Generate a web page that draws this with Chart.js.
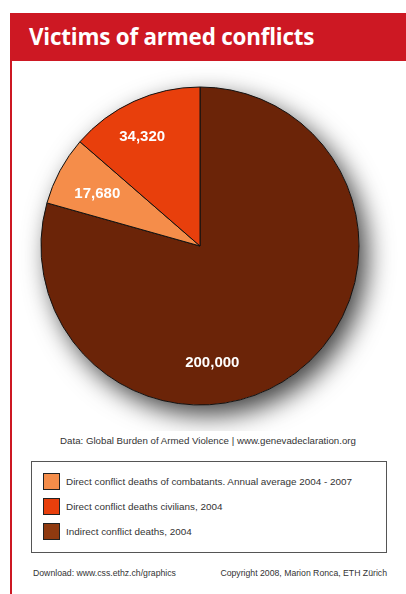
<!DOCTYPE html>
<html>
<head>
<meta charset="utf-8">
<script src="https://cdn.jsdelivr.net/npm/chart.js@4.4.0/dist/chart.umd.min.js"></script>
<style>
  html, body { margin: 0; padding: 0; background: #fff; }
  body { width: 406px; height: 594px; position: relative; overflow: hidden; font-family: "Liberation Sans", Arial, sans-serif; }
  .header { position: absolute; left: 10px; top: 13px; width: 396px; height: 48px; background: #cd1823; z-index: 2; }
  .header h1 { margin: 0; position: absolute; left: 19px; top: 8px; color: #fff; font-family: "Open Sans", sans-serif; font-weight: 700; font-size: 22.4px; letter-spacing: -0.2px; }
  .rule { position: absolute; left: 10px; top: 61px; width: 2px; height: 533px; background: #cd1823; z-index: 2; }
  .wrap { position: absolute; left: 0; top: 61px; width: 400px; height: 370px; }
  .source { position: absolute; left: 0; width: 416px; top: 435px; text-align: center; font-size: 9.7px; color: #333; }
  .legend { position: absolute; left: 31px; top: 461px; width: 354px; height: 90px; border: 1px solid #555; background: #fff; }
  .item { position: absolute; left: 11px; height: 17px; font-size: 9.9px; color: #333; line-height: 17px; }
  .item span.sw { position: absolute; left: 0; top: 0; width: 15px; height: 15px; border: 1px solid #222; }
  .item span.tx { position: absolute; left: 23px; white-space: nowrap; }
  .foot { position: absolute; top: 568px; font-size: 8.7px; color: #333; }
</style>
</head>
<body>
<div class="header"><h1>Victims of armed conflicts</h1></div>
<div class="rule"></div>
<div class="wrap"><canvas id="pie"></canvas></div>
<div class="source">Data: Global Burden of Armed Violence | www.genevadeclaration.org</div>
<div class="legend" id="legend"></div>
<div class="foot" style="left:33px">Download: www.css.ethz.ch/graphics</div>
<div class="foot" style="right:19px">Copyright 2008, Marion Ronca, ETH Zürich</div>
<script>
// Slices in drawing order (clockwise from 12 o'clock)
const categories = [
    "Indirect conflict deaths, 2004",
    "Direct conflict deaths of combatants. Annual average 2004 - 2007",
    "Direct conflict deaths civilians, 2004",
];
const deaths = [200000, 17680, 34320];
const sliceColors = ["#6b2408", "#f58d4a", "#e83f0c"];
const legendSwatch = ["#903a10", "#f58d4a", "#e83f0c"];
// legend lists the slices in this order
const legendOrder = [1, 2, 0];

// label anchor per slice: angle in degrees clockwise from top, radius fraction
const labelPlacement = [
    { angle: 174, r: 0.74 },
    { angle: 297, r: 0.725 },
    { angle: 332, r: 0.775 },
];

const legendEl = document.getElementById("legend");
legendOrder.forEach((idx, i) => {
    const row = document.createElement("div");
    row.className = "item";
    row.style.top = (11 + i * 25) + "px";
    row.innerHTML = '<span class="sw" style="background:' + legendSwatch[idx] + '"></span><span class="tx">' + categories[idx] + "</span>";
    legendEl.appendChild(row);
});

// soft drop shadow under the whole pie
const pieShadow = {
    id: "pieShadow",
    beforeDatasetsDraw(chart) {
        const arc = chart.getDatasetMeta(0).data[0];
        if (!arc) return;
        const { ctx } = chart;
        ctx.save();
        ctx.shadowColor = "rgba(0,0,0,0.75)";
        ctx.shadowBlur = 26;
        ctx.shadowOffsetX = 8;
        ctx.shadowOffsetY = 10;
        ctx.fillStyle = "#fff";
        ctx.beginPath();
        ctx.arc(arc.x, arc.y, arc.outerRadius, 0, Math.PI * 2);
        ctx.fill();
        ctx.restore();
    },
};

const sliceLabels = {
    id: "sliceLabels",
    afterDatasetsDraw(chart) {
        const { ctx } = chart;
        const meta = chart.getDatasetMeta(0);
        ctx.save();
        ctx.fillStyle = "#fff";
        ctx.font = "bold 15px 'Liberation Sans', Arial, sans-serif";
        ctx.textAlign = "center";
        ctx.textBaseline = "middle";
        meta.data.forEach((arc, i) => {
            const p = labelPlacement[i];
            const a = (p.angle - 90) * Math.PI / 180;
            const rr = arc.outerRadius * p.r;
            ctx.fillText(deaths[i].toLocaleString("en-US"), arc.x + Math.cos(a) * rr, arc.y + Math.sin(a) * rr);
        });
        ctx.restore();
    },
};

new Chart(document.getElementById("pie"), {
    type: "pie",
    data: {
        labels: categories,
        datasets: [{
            data: deaths,
            backgroundColor: sliceColors,
            borderColor: "#111",
            borderWidth: 1,
            borderJoinStyle: "miter",
        }],
    },
    options: {
        responsive: true,
        maintainAspectRatio: false,
        animation: false,
        radius: 159,
        layout: { padding: { top: 0, bottom: 0 } },
        plugins: {
            legend: { display: false },
            tooltip: { enabled: false },
        },
    },
    plugins: [pieShadow, sliceLabels],
});
</script>
</body>
</html>
